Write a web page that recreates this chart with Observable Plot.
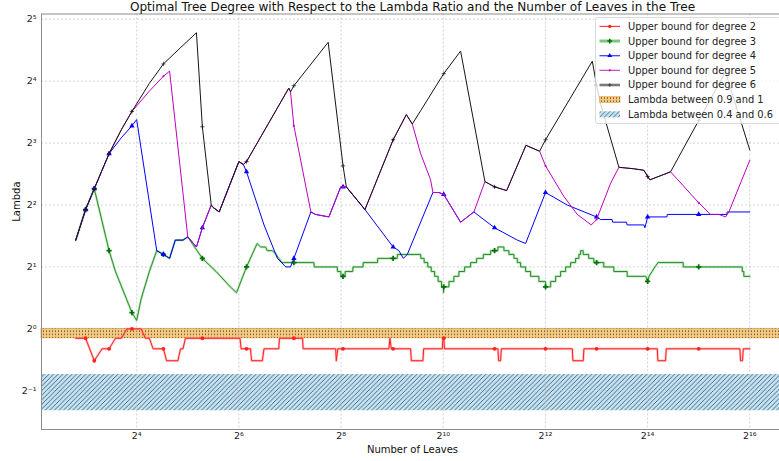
<!DOCTYPE html>
<html>
<head>
<meta charset="utf-8">
<script src="https://cdn.jsdelivr.net/npm/d3@7"></script>
<script src="https://cdn.jsdelivr.net/npm/@observablehq/plot@0.6"></script>
<style>
  body { margin: 0; background: #fff; }
  #chart { width: 779px; height: 461px; overflow: hidden; }
  #chart svg { display: block; }
  #chart svg text.legend-label { font-family: "DejaVu Sans", sans-serif; font-size: 9.9px; fill: #222; text-anchor: start; }
</style>
</head>
<body>
<div id="chart"></div>
<script>
// Upper bound of lambda for which each tree degree is optimal, by number of leaves.
// Each entry is [number of leaves, lambda].
const degree2 = [[7,0.9],[8,0.9],[9,0.7],[10,0.8],[11,0.8],[12,0.9],[13,0.9],[14,1.0],[15,1.0],[17,1.0],[18,0.9],[19,0.9],[20,0.8],[23,0.8],[24,0.7],[28,0.7],[29,0.8],[30,0.8],[31,0.9],[39,0.9],[65,0.9],[66,0.8],[71,0.8],[75,0.8],[76,0.7],[88,0.7],[90,0.8],[110,0.8],[111,0.9],[135,0.9],[152,0.9],[153,0.8],[238,0.8],[240,0.7],[245,0.8],[263,0.8],[490,0.8],[497,0.9],[506,0.8],[519,0.8],[658,0.8],[664,0.7],[778,0.7],[785,0.8],[1011,0.8],[1020,0.9],[1031,0.9],[1043,0.8],[2055,0.8],[2150,0.8],[2171,0.7],[2230,0.7],[2252,0.8],[4103,0.8],[5898,0.8],[5947,0.7],[6846,0.7],[6904,0.8],[8199,0.8],[16391,0.8],[18700,0.8],[18830,0.7],[20900,0.7],[21100,0.8],[32775,0.8],[57300,0.8],[57800,0.7],[59400,0.7],[60000,0.8],[65536,0.8]];

const degree3 = [[7,2.7],[8,3.8],[9,4.8],[11,2.4],[12,1.9],[15,1.2],[16,1.1],[17,1.4],[19,1.9],[21,2.4],[23,2.3],[25,2.2],[27,2.7],[30,2.7],[32,2.8],[39,2.2],[47,1.9],[57,1.6],[62,1.5],[71,2.0],[82,2.6],[86,2.5],[92,2.5],[94,2.4],[101,2.4],[106,2.3],[110,2.2],[115,2.1],[135,2.1],[177,2.1],[178,2.0],[243,2.0],[244,1.9],[255,1.9],[256,1.8],[263,1.8],[270,1.8],[271,1.9],[300,1.9],[301,2.0],[345,2.0],[346,2.1],[420,2.1],[421,2.2],[519,2.2],[549,2.2],[550,2.3],[754,2.3],[755,2.2],[790,2.2],[791,2.1],[830,2.1],[831,2.0],[870,2.0],[871,1.9],[910,1.9],[911,1.8],[955,1.8],[956,1.7],[1000,1.7],[1001,1.6],[1028,1.6],[1029,1.5],[1030,1.6],[1031,1.6],[1106,1.6],[1107,1.7],[1183,1.7],[1184,1.8],[1266,1.8],[1267,1.9],[1368,1.9],[1369,2.0],[1484,2.0],[1485,2.1],[1610,2.1],[1611,2.2],[1764,2.2],[1765,2.3],[1948,2.3],[1949,2.4],[2055,2.4],[2149,2.4],[2150,2.5],[2332,2.5],[2333,2.4],[2496,2.4],[2497,2.3],[2672,2.3],[2673,2.2],[2797,2.2],[2798,2.1],[2925,2.1],[2926,2.0],[3131,2.0],[3132,1.9],[3349,1.9],[3350,1.8],[3749,1.8],[3750,1.7],[4102,1.7],[4103,1.6],[4396,1.6],[4397,1.7],[4704,1.7],[4705,1.8],[5034,1.8],[5035,1.9],[5386,1.9],[5387,2.0],[5763,2.0],[5764,2.1],[6166,2.1],[6167,2.2],[6449,2.2],[6450,2.3],[6599,2.3],[6600,2.4],[6839,2.4],[6840,2.3],[7369,2.3],[7370,2.2],[7899,2.2],[7900,2.1],[8199,2.1],[9039,2.1],[9040,2.0],[10359,2.0],[10360,1.9],[12419,1.9],[12420,1.8],[16000,1.8],[16391,1.7],[16700,1.8],[17400,1.9],[18100,2.0],[18900,2.1],[26569,2.1],[26570,2.0],[32775,2.0],[59159,2.0],[59160,1.9],[60449,1.9],[60450,1.8],[65536,1.8]];

const degree4 = [[7,2.7],[8,3.8],[9,4.8],[10,5.9],[11,7.1],[13,8.5],[15,9.7],[16,10.4],[21,2.4],[23,2.3],[25,2.2],[27,2.7],[30,2.7],[32,2.8],[36,2.5],[39,3.1],[44,4.0],[45,3.9],[49,3.7],[64,6.5],[68,6.3],[71,5.8],[90,3.2],[108,2.2],[121,2.0],[129,2.0],[135,2.2],[170,3.7],[181,3.6],[217,3.5],[255,4.9],[263,4.9],[275,4.9],[354,3.8],[519,2.5],[561,2.4],[596,2.2],[629,2.3],[890,4.6],[966,4.6],[1031,4.5],[1296,3.3],[1552,3.7],[2055,3.1],[2797,2.7],[3132,2.6],[4103,4.6],[5500,4.0],[8199,3.5],[8660,3.4],[10130,3.4],[10200,3.3],[12300,3.3],[12410,3.2],[15590,3.2],[15800,3.1],[16391,3.5],[21300,3.5],[21400,3.6],[32775,3.6],[48100,3.6],[48200,3.7],[65536,3.7]];

const degree5 = [[7,2.7],[8,3.8],[9,4.8],[10,5.9],[11,7.1],[13,9.3],[15,11.4],[19,14.3],[23,16.9],[25,17.9],[32,2.8],[36,2.5],[39,3.1],[44,4.0],[45,3.9],[49,3.7],[64,6.5],[68,6.3],[71,6.5],[126,14.8],[129,14.2],[135,9.7],[170,3.7],[181,3.6],[217,3.5],[255,4.9],[263,4.9],[275,4.9],[354,3.8],[519,8.3],[621,11.0],[673,9.9],[754,7.1],[863,5.3],[890,4.6],[966,4.6],[1031,4.5],[1296,3.3],[1552,3.7],[1803,5.2],[2055,4.9],[2421,4.7],[3145,7.8],[3786,7.3],[4103,6.2],[5264,4.4],[6312,3.6],[7632,3.2],[8199,3.4],[9920,5.1],[11100,6.1],[13590,6.0],[15590,5.9],[16391,5.5],[16900,5.3],[22380,5.8],[32775,4.1],[38500,3.6],[43100,3.6],[47200,3.5],[49350,3.7],[65536,6.6]];

const degree6 = [[7,2.7],[8,3.8],[9,4.8],[10,5.9],[11,7.1],[13,9.3],[15,11.4],[19,15.6],[23,19.4],[30,23.9],[36,27.5],[39,9.6],[44,4.0],[45,3.9],[49,3.7],[64,6.5],[68,6.3],[71,6.5],[126,14.8],[129,14.2],[135,15.2],[215,24.7],[263,6.2],[275,4.9],[354,3.8],[519,8.3],[621,11.0],[673,9.9],[754,11.5],[1031,17.4],[1296,22.4],[1803,5.2],[2055,4.9],[2421,4.7],[3145,7.8],[3786,7.3],[4103,8.3],[7738,20.0],[8199,15.3],[8660,12.4],[11100,6.1],[13590,6.0],[15590,5.9],[16391,5.5],[16900,5.3],[22380,5.8],[32775,10.3],[47200,17.7],[65536,7.4]];

// Leaf counts that carry a marker on every curve
const markerLeaves = [8, 9, 11, 15, 23, 39, 71, 135, 263, 519, 1031, 2055, 4103, 8199, 16391, 32775];

const degrees = [2, 3, 4, 5, 6];
const bandLabels = ["Lambda between 0.9 and 1", "Lambda between 0.4 and 0.6"];
const bandLow = [0.9, 0.4];
const bandHigh = [1.0, 0.6];

const xTicks = [16, 64, 256, 1024, 4096, 16384, 65536];
const yTicks = [0.5, 1, 2, 4, 8, 16, 32];

const title = "Optimal Tree Degree with Respect to the Lambda Ratio and the Number of Leaves in the Tree";

// ---- drawing ----
const sup = {"-": "\u207B", "0": "\u2070", "1": "\u00B9", "2": "\u00B2", "3": "\u00B3",
             "4": "\u2074", "5": "\u2075", "6": "\u2076", "7": "\u2077", "8": "\u2078", "9": "\u2079"};
const pow2 = v => "2" + String(Math.round(Math.log2(v))).split("").map(c => sup[c]).join("");

const xDomain = [2 ** 2.137, 2 ** 16.66];
const yDomain = [2 ** -1.625, 2 ** 5.084];

const styles = {
  2: {color: "#ff2020", halo: "#ff8a8a", width: 1, symbol: "circle", r: 1.9},
  3: {color: "#2a8f2a", halo: "#86cf86", width: 1, symbol: "cross", r: 2.2, markerFill: "#007000"},
  4: {color: "#0000ff", width: 1, symbol: "triangle", r: 2},
  5: {color: "#c000c0", width: 1, symbol: "circle", r: 1.1},
  6: {color: "#151515", width: 1, symbol: "plus", r: 1.5, strokeOnly: true}
};
const seriesData = {2: degree2, 3: degree3, 4: degree4, 5: degree5, 6: degree6};
const markersOf = pts => markerLeaves.map(n => pts.find(p => p[0] === n)).filter(Boolean);

const bands = bandLabels.map((label, i) => ({label, lo: bandLow[i], hi: bandHigh[i]}));

const seriesMarks = degrees.flatMap(d => {
  const s = styles[d];
  const pts = seriesData[d];
  const out = [];
  if (s.halo) out.push(Plot.line(pts, {x: p => p[0], y: p => p[1], stroke: s.halo, strokeWidth: 2.4, strokeOpacity: 0.55}));
  out.push(Plot.line(pts, {x: p => p[0], y: p => p[1], stroke: s.color, strokeWidth: s.width}));
  const m = markersOf(pts);
  if (s.strokeOnly) {
    out.push(Plot.dot(m, {x: p => p[0], y: p => p[1], symbol: s.symbol, r: s.r, stroke: s.color, strokeWidth: 0.7}));
  } else {
    out.push(Plot.dot(m, {x: p => p[0], y: p => p[1], symbol: s.symbol, r: s.r, fill: s.markerFill || s.color, stroke: "none"}));
  }
  return out;
});

const plot = Plot.plot({
  width: 779,
  height: 461,
  marginLeft: 41,
  marginRight: -4,
  marginTop: 13.5,
  marginBottom: 32,
  style: {fontFamily: "'DejaVu Sans', sans-serif", fontSize: "9.5px", color: "#222", background: "white"},
  x: {type: "log", base: 2, domain: xDomain},
  y: {type: "log", base: 2, domain: yDomain},
  marks: [
    Plot.rect(bands.slice(0, 1), {x1: xDomain[0], x2: xDomain[1], y1: "lo", y2: "hi", fill: "#f6c87e", stroke: "#eaa33f", strokeWidth: 0.8}),
    Plot.rect(bands.slice(0, 1), {x1: xDomain[0], x2: xDomain[1], y1: "lo", y2: "hi", fill: "url(#band-dots)"}),
    Plot.rect(bands.slice(1, 2), {x1: xDomain[0], x2: xDomain[1], y1: "lo", y2: "hi", fill: "#c2e4f7"}),
    Plot.rect(bands.slice(1, 2), {x1: xDomain[0], x2: xDomain[1], y1: "lo", y2: "hi", fill: "url(#band-diag)"}),
    Plot.ruleX(xTicks, {stroke: "#c0c0c0", strokeWidth: 0.7, strokeDasharray: "2,2"}),
    Plot.ruleY(yTicks, {stroke: "#c0c0c0", strokeWidth: 0.7, strokeDasharray: "2,2"}),
    ...seriesMarks,
    Plot.frame({stroke: "#8c8c8c", strokeWidth: 1}),
    Plot.axisX(xTicks, {tickSize: 0, tickPadding: 3, tickFormat: pow2, label: null, fontSize: 9.5}),
    Plot.axisY(yTicks, {tickSize: 0, tickPadding: 5, tickFormat: pow2, label: null, fontSize: 9.5}),
    Plot.text([title], {frameAnchor: "top", dy: -7, lineAnchor: "middle", fontSize: 12.1, fill: "#111"}),
    Plot.text(["Number of Leaves"], {frameAnchor: "bottom", dy: 20, lineAnchor: "middle", fontSize: 10, fill: "#111"}),
    Plot.text(["Lambda"], {frameAnchor: "left", dx: -25, rotate: -90, lineAnchor: "middle", fontSize: 10, fill: "#111"})
  ]
});

document.getElementById("chart").appendChild(plot);

// Hatch patterns for the two lambda bands
const svg = d3.select(plot);
const defs = svg.insert("defs", ":first-child");
const dots = defs.append("pattern").attr("id", "band-dots")
  .attr("patternUnits", "userSpaceOnUse").attr("width", 3).attr("height", 3.2);
dots.append("rect").attr("x", 1).attr("y", 1.1).attr("width", 1).attr("height", 1).attr("fill", "#2b2b2b");
const diag = defs.append("pattern").attr("id", "band-diag")
  .attr("patternUnits", "userSpaceOnUse").attr("width", 4.6).attr("height", 4.6);
diag.append("path").attr("d", "M-1.15,1.15 L1.15,-1.15 M0,4.6 L4.6,0 M3.45,5.75 L5.75,3.45")
  .attr("stroke", "#38444f").attr("stroke-width", 0.8).attr("fill", "none");

// Legend box in the upper right corner
const lg = svg.append("g");
lg.append("rect").attr("x", 595.5).attr("y", 17.5).attr("width", 186).attr("height", 106).attr("rx", 2.5)
  .attr("fill", "white").attr("fill-opacity", 0.8).attr("stroke", "#d0d0d0").attr("stroke-width", 0.8);
const rowY = i => 26.4 + i * 14.65;
const hx0 = 599.5, hx1 = 620, hxm = (hx0 + hx1) / 2, tx = 628;
const symbolPath = (type, r) => d3.symbol(type, Math.PI * r * r)();
const handleLine = (g, color, w) => g.append("line")
  .attr("x1", hx0).attr("x2", hx1).attr("y1", 0).attr("y2", 0).attr("stroke", color).attr("stroke-width", w);
const legendHandle = {
  2: g => { handleLine(g, "#ff3030", 1.1);
            g.append("path").attr("d", symbolPath(d3.symbolCircle, 1.6)).attr("transform", `translate(${hxm},0)`).attr("fill", "#ff1f1f"); },
  3: g => { handleLine(g, "#7cc77c", 3);
            g.append("path").attr("d", symbolPath(d3.symbolCross, 2)).attr("transform", `translate(${hxm},0)`).attr("fill", "#007000"); },
  4: g => { handleLine(g, "#4040ff", 1.3);
            g.append("path").attr("d", symbolPath(d3.symbolTriangle, 1.8)).attr("transform", `translate(${hxm},0)`).attr("fill", "#0000ff"); },
  5: g => { handleLine(g, "#d050d0", 1.3);
            g.append("path").attr("d", symbolPath(d3.symbolCircle, 1.1)).attr("transform", `translate(${hxm},0)`).attr("fill", "#c000c0"); },
  6: g => { handleLine(g, "#7a7a7a", 2.6);
            g.append("path").attr("d", "M-1.8,0H1.8M0,-1.8V1.8").attr("transform", `translate(${hxm},0)`).attr("stroke", "#333").attr("stroke-width", 0.8); }
};
const legendText = (g, label) => g.append("text").attr("class", "legend-label")
  .attr("x", tx).attr("y", 0).attr("dy", "0.35em").text(label);
degrees.forEach((d, i) => {
  const g = lg.append("g").attr("transform", `translate(0,${rowY(i)})`);
  legendHandle[d](g);
  legendText(g, `Upper bound for degree ${d}`);
});
bandLabels.forEach((label, i) => {
  const g = lg.append("g").attr("transform", `translate(0,${rowY(5 + i)})`);
  const base = i === 0 ? "#f6c87e" : "#c2e4f7";
  const pat = i === 0 ? "url(#band-dots)" : "url(#band-diag)";
  g.append("rect").attr("x", hx0).attr("y", -3).attr("width", hx1 - hx0).attr("height", 6).attr("fill", base)
    .attr("stroke", i === 0 ? "#eaa33f" : "none").attr("stroke-width", 0.6);
  g.append("rect").attr("x", hx0).attr("y", -3).attr("width", hx1 - hx0).attr("height", 6).attr("fill", pat);
  legendText(g, label);
});
</script>
</body>
</html>
